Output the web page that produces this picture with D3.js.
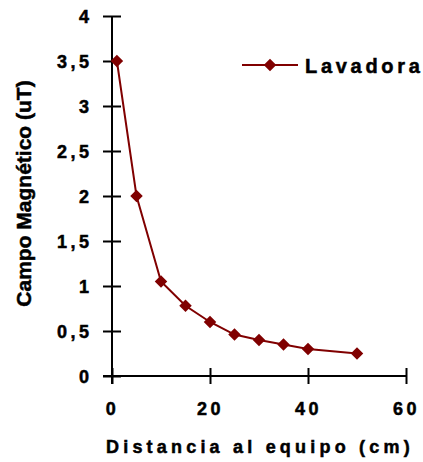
<!DOCTYPE html>
<html><head><meta charset="utf-8">
<script src="https://cdn.jsdelivr.net/npm/d3@7"></script>
<style>body{margin:0;background:#fff}svg{display:block}svg text{font-family:Arial,"Liberation Sans",sans-serif !important;font-weight:700 !important;fill:#000;stroke:#000;stroke-width:0.5px}</style>
</head><body>
<script>
const distances = [1, 5, 10, 15, 20, 25, 30, 35, 40, 50];
const campo = [3.5, 2, 1.05, 0.78, 0.6, 0.46, 0.4, 0.35, 0.3, 0.25];
const seriesName = "Lavadora";
const xTicks = [0, 20, 40, 60];
const yTicks = [0, 0.5, 1, 1.5, 2, 2.5, 3, 3.5, 4];
const xTitle = "Distancia al equipo (cm)";
const yTitle = "Campo Magnético (uT)";

const W = 423, H = 462;
const svg = d3.select("body").append("svg").attr("width", W).attr("height", H);
const x = d3.scaleLinear().domain([0, 60]).range([112, 406]);
const y = d3.scaleLinear().domain([0, 4]).range([376, 16]);
const fmt = d => String(d).replace(".", ",");
const color = "#800000";

const xAxis = svg.append("g").attr("transform", `translate(0,${y(0)})`)
  .call(d3.axisBottom(x).tickValues(xTicks).tickSizeInner(8).tickSizeOuter(0).tickFormat(fmt));
const yAxis = svg.append("g").attr("transform", `translate(${x(0)},0)`)
  .call(d3.axisLeft(y).tickValues(yTicks).tickSizeInner(9).tickSizeOuter(0).tickFormat(fmt));
[xAxis, yAxis].forEach(g => {
  g.attr("font-family", null).attr("font-size", null);
  g.select(".domain").attr("stroke", "#000").attr("stroke-width", 2);
  g.selectAll(".tick line").attr("stroke", "#000").attr("stroke-width", 2);
  g.selectAll(".tick text").style("font-size", "18px").style("letter-spacing", "3.5px");
});
xAxis.selectAll(".tick line").attr("y1", -8);
yAxis.selectAll(".tick line").attr("x1", 9).attr("x2", -9);
yAxis.selectAll(".tick text").attr("x", -19.5).attr("dy", null).attr("y", 6.5);
xAxis.selectAll(".tick text").attr("dy", null).attr("y", 39).attr("x", 0);
xAxis.select(".domain").attr("d", `M${x(0)-9},0H${x(60)}`);
yAxis.select(".domain").attr("d", `M0,${y(4)}V${y(0)+8}`);

const pts = distances.map((d, i) => [d, campo[i]]);
svg.append("path").datum(pts)
  .attr("fill", "none").attr("stroke", color).attr("stroke-width", 2)
  .attr("d", d3.line().x(d => x(d[0])).y(d => y(d[1])));
const diamond = d3.symbol().type(d3.symbolDiamond2).size(100);
svg.selectAll(".pt").data(pts).join("path").attr("class", "pt")
  .attr("transform", d => `translate(${x(d[0])},${y(d[1])})`)
  .attr("d", diamond).attr("fill", color);

const lg = svg.append("g");
lg.append("line").attr("x1", 242).attr("x2", 298).attr("y1", 65).attr("y2", 65).attr("stroke", color).attr("stroke-width", 2);
lg.append("path").attr("transform", "translate(270,65)").attr("d", diamond).attr("fill", color);
lg.append("text").attr("x", 305).attr("y", 73).style("font-size", "20px").style("letter-spacing", "3.7px").text(seriesName);

svg.append("text").attr("x", 106).attr("y", 453).style("font-size", "18px").style("letter-spacing", "4.2px").text(xTitle);
svg.append("text").attr("transform", "translate(31,193.5) rotate(-90)").attr("text-anchor", "middle").style("font-size", "21px").text(yTitle);
</script>
</body></html>
